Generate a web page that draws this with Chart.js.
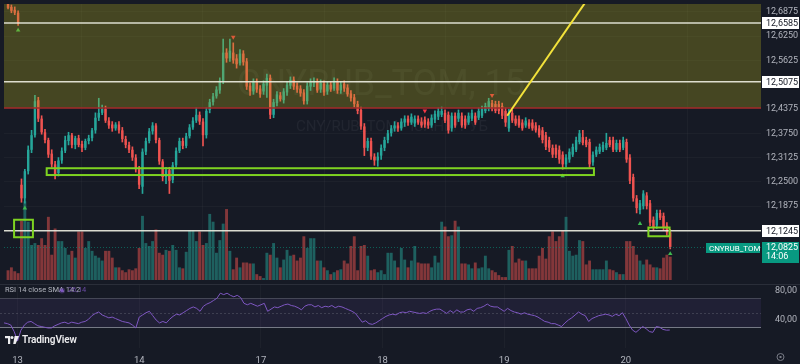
<!DOCTYPE html>
<html lang="ru">
<head>
    <meta charset="UTF-8">
    <title>CNYRUB_TOM, 15</title>
    <script src="https://cdn.jsdelivr.net/npm/chart.js"></script>
    <style>
        body { margin: 0; background: #161a25; width: 800px; height: 364px; overflow: hidden; position: relative; }
        canvas { position: absolute; left: 0; }
        #priceChart { top: 0; }
        #rsiChart { top: 284px; }
        .brand { position: absolute; left: 5px; top: 334px; display: flex; align-items: center; gap: 3px;
                 color: #ececee; font: 600 10px Roboto, sans-serif; letter-spacing: -0.1px; }
    </style>
</head>
<body>
    <canvas id="priceChart" width="800" height="284"></canvas>
    <canvas id="rsiChart" width="800" height="80"></canvas>
    <div class="brand">
        <svg width="14" height="8" viewBox="0 0 14 8"><path d="M0 0h5.2v8H3V2.2H0z" fill="#ececee"/><circle cx="7" cy="1.5" r="1.5" fill="#ececee"/><path d="M9.6 0H14L10.6 8H8.2z" fill="#ececee"/></svg>
        <span>TradingView</span>
    </div>

    <script>
        // bar number of the first candle (4 candles of the 12th before day 13 opens)
        const firstBar = -4;
        const dayTicks = [0, 36, 72, 108, 144, 180];
        const dayLabels = ['13', '14', '17', '18', '19', '20'];
        const priceTicks = [12.6875, 12.625, 12.5625, 12.4375, 12.375, 12.3125, 12.25, 12.1875];
        const rsiTicks = [40, 80];

        const opens = [
            12.7075, 12.7, 12.6925, 12.685,
            // 13
            12.2425, 12.2075, 12.2775, 12.3325, 12.37, 12.46, 12.4125, 12.3775, 12.3575, 12.3225,
            12.295, 12.2725, 12.305, 12.33, 12.355, 12.37, 12.345, 12.3625, 12.3475, 12.3375,
            12.355, 12.3625, 12.3825, 12.415, 12.4275, 12.4375, 12.4075, 12.3975, 12.3875, 12.3975,
            12.3825, 12.36, 12.345, 12.3325, 12.3125, 12.2825,
            // 14
            12.2375, 12.3275, 12.355, 12.38, 12.395, 12.3575, 12.3025, 12.2625, 12.28, 12.255,
            12.2925, 12.33, 12.355, 12.3425, 12.3675, 12.39, 12.4075, 12.4225, 12.405, 12.37,
            12.435, 12.455, 12.47, 12.485, 12.5075, 12.5825, 12.5675, 12.5825, 12.5675, 12.555,
            12.58, 12.56, 12.4975, 12.4825, 12.5075, 12.49,
            // 17
            12.4825, 12.4975, 12.5175, 12.4225, 12.4525, 12.4725, 12.46, 12.48, 12.4975, 12.5125,
            12.4975, 12.49, 12.48, 12.4575, 12.495, 12.505, 12.5075, 12.4875, 12.5025, 12.4825,
            12.5, 12.49, 12.5075, 12.485, 12.5025, 12.4925, 12.4775, 12.4675, 12.45, 12.435,
            12.3925, 12.3375, 12.355, 12.315, 12.305, 12.3175,
            // 18
            12.3375, 12.3575, 12.375, 12.3875, 12.395, 12.3875, 12.4025, 12.4125, 12.4025, 12.4,
            12.4125, 12.405, 12.41, 12.405, 12.395, 12.41, 12.4175, 12.4225, 12.4275, 12.4225,
            12.3875, 12.42, 12.4125, 12.42, 12.4125, 12.4025, 12.4125, 12.42, 12.415, 12.42,
            12.4325, 12.4375, 12.4525, 12.45, 12.45, 12.445,
            // 19
            12.4325, 12.3875, 12.4275, 12.4125, 12.4125, 12.4025, 12.395, 12.4025, 12.4025, 12.395,
            12.3875, 12.3825, 12.37, 12.3575, 12.3375, 12.3375, 12.3325, 12.32, 12.295, 12.3075,
            12.32, 12.3325, 12.3525, 12.365, 12.3575, 12.3525, 12.3, 12.32, 12.3275, 12.3325,
            12.3375, 12.3575, 12.3575, 12.3325, 12.35, 12.3375,
            // 20
            12.3525, 12.3125, 12.2625, 12.2075, 12.1775, 12.1875, 12.215, 12.195, 12.1525, 12.1375,
            12.17, 12.1625, 12.1375, 12.12
        ];
        const highs = [
            12.7225, 12.705, 12.7, 12.69,
            12.2575, 12.2825, 12.3425, 12.3825, 12.4725, 12.4675, 12.42, 12.385, 12.3625, 12.3325,
            12.3025, 12.3125, 12.3375, 12.3675, 12.3775, 12.375, 12.3675, 12.37, 12.355, 12.36,
            12.37, 12.3875, 12.4275, 12.465, 12.4475, 12.445, 12.415, 12.405, 12.4025, 12.405,
            12.39, 12.3675, 12.3525, 12.34, 12.32, 12.29,
            12.335, 12.3625, 12.3875, 12.4025, 12.4, 12.3625, 12.3075, 12.2875, 12.2875, 12.3,
            12.3375, 12.3625, 12.3625, 12.375, 12.3975, 12.415, 12.44, 12.43, 12.4125, 12.44,
            12.4625, 12.4775, 12.495, 12.5175, 12.6175, 12.5925, 12.6175, 12.6075, 12.5775, 12.59,
            12.5875, 12.5675, 12.505, 12.515, 12.515, 12.4975,
            12.51, 12.5275, 12.525, 12.4625, 12.4825, 12.48, 12.49, 12.5075, 12.52, 12.52,
            12.505, 12.4975, 12.4875, 12.505, 12.515, 12.5175, 12.515, 12.5125, 12.51, 12.5075,
            12.5075, 12.5175, 12.515, 12.5075, 12.51, 12.5, 12.485, 12.475, 12.4575, 12.4425,
            12.4, 12.3625, 12.3625, 12.3225, 12.325, 12.345,
            12.365, 12.3825, 12.395, 12.405, 12.4025, 12.4125, 12.42, 12.42, 12.425, 12.42,
            12.42, 12.415, 12.4175, 12.4125, 12.4225, 12.4325, 12.44, 12.4425, 12.435, 12.43,
            12.4275, 12.4275, 12.435, 12.4275, 12.42, 12.4275, 12.435, 12.4275, 12.44, 12.445,
            12.4525, 12.465, 12.46, 12.4575, 12.4575, 12.4525,
            12.44, 12.4375, 12.435, 12.42, 12.42, 12.41, 12.415, 12.41, 12.41, 12.4025,
            12.395, 12.39, 12.3775, 12.365, 12.345, 12.345, 12.3425, 12.3275, 12.32, 12.335,
            12.3475, 12.365, 12.3825, 12.3825, 12.365, 12.36, 12.3275, 12.34, 12.3475, 12.3525,
            12.375, 12.365, 12.365, 12.3575, 12.3575, 12.365,
            12.36, 12.32, 12.27, 12.215, 12.2025, 12.2275, 12.2225, 12.2025, 12.16, 12.1775,
            12.1775, 12.17, 12.145, 12.1275
        ];
        const lows = [
            12.695, 12.685, 12.68, 12.6525,
            12.1975, 12.195, 12.27, 12.325, 12.365, 12.405, 12.3725, 12.35, 12.3125, 12.2875,
            12.2575, 12.265, 12.2975, 12.325, 12.345, 12.3375, 12.335, 12.34, 12.3275, 12.3325,
            12.3475, 12.355, 12.375, 12.4075, 12.4225, 12.4025, 12.3875, 12.38, 12.3825, 12.375,
            12.3525, 12.3375, 12.325, 12.305, 12.275, 12.2325,
            12.22, 12.32, 12.35, 12.3725, 12.35, 12.295, 12.2525, 12.245, 12.22, 12.2475,
            12.2875, 12.325, 12.335, 12.3375, 12.3625, 12.385, 12.4025, 12.3975, 12.3425, 12.3625,
            12.4275, 12.4475, 12.465, 12.4775, 12.5025, 12.5575, 12.56, 12.555, 12.5425, 12.55,
            12.55, 12.4875, 12.4725, 12.475, 12.48, 12.4675,
            12.475, 12.4675, 12.4125, 12.415, 12.445, 12.4575, 12.4525, 12.4725, 12.49, 12.4875,
            12.48, 12.47, 12.45, 12.45, 12.485, 12.495, 12.48, 12.48, 12.4725, 12.475,
            12.4825, 12.485, 12.4775, 12.4775, 12.4825, 12.47, 12.4575, 12.4425, 12.425, 12.385,
            12.3175, 12.33, 12.3075, 12.2925, 12.29, 12.3075,
            12.33, 12.35, 12.3675, 12.38, 12.38, 12.3825, 12.3925, 12.395, 12.3975, 12.3925,
            12.3975, 12.39, 12.39, 12.3875, 12.39, 12.4025, 12.41, 12.4175, 12.4025, 12.375,
            12.38, 12.39, 12.405, 12.39, 12.3875, 12.3975, 12.4075, 12.3975, 12.41, 12.415,
            12.4275, 12.4325, 12.4325, 12.4275, 12.425, 12.4125,
            12.3925, 12.38, 12.4025, 12.395, 12.39, 12.3825, 12.39, 12.3875, 12.3825, 12.3775,
            12.365, 12.35, 12.3325, 12.3275, 12.3125, 12.3125, 12.2975, 12.2825, 12.2875, 12.3,
            12.315, 12.3275, 12.3475, 12.345, 12.34, 12.2875, 12.2925, 12.315, 12.3225, 12.3275,
            12.3325, 12.34, 12.3275, 12.3275, 12.3275, 12.3325,
            12.3, 12.245, 12.2, 12.17, 12.1675, 12.18, 12.18, 12.1375, 12.125, 12.13,
            12.1525, 12.125, 12.1125, 12.0775
        ];
        const closes = [
            12.6975, 12.69, 12.685, 12.6575,
            12.2075, 12.2775, 12.3325, 12.37, 12.4575, 12.4125, 12.3775, 12.3575, 12.32, 12.295,
            12.27, 12.305, 12.33, 12.3575, 12.37, 12.345, 12.3625, 12.345, 12.3375, 12.355,
            12.3625, 12.3825, 12.415, 12.4275, 12.4375, 12.4075, 12.395, 12.3875, 12.3975, 12.3825,
            12.36, 12.345, 12.3325, 12.3125, 12.2825, 12.2425,
            12.3275, 12.355, 12.38, 12.395, 12.3575, 12.3025, 12.2625, 12.28, 12.2525, 12.2925,
            12.33, 12.355, 12.3425, 12.3675, 12.39, 12.4075, 12.4225, 12.405, 12.37, 12.4325,
            12.455, 12.47, 12.4875, 12.51, 12.5825, 12.5675, 12.5875, 12.5625, 12.5525, 12.58,
            12.5575, 12.495, 12.4825, 12.5075, 12.4875, 12.475,
            12.5025, 12.5175, 12.4225, 12.455, 12.475, 12.4625, 12.4825, 12.5, 12.5125, 12.495,
            12.4875, 12.4775, 12.4575, 12.4975, 12.5075, 12.51, 12.485, 12.505, 12.48, 12.5,
            12.4875, 12.51, 12.485, 12.5, 12.49, 12.475, 12.465, 12.45, 12.4325, 12.3925,
            12.3375, 12.355, 12.315, 12.305, 12.315, 12.3375,
            12.3575, 12.375, 12.3875, 12.395, 12.3875, 12.405, 12.4125, 12.4025, 12.4175, 12.4125,
            12.4025, 12.395, 12.3975, 12.395, 12.415, 12.425, 12.4325, 12.4325, 12.4075, 12.3825,
            12.42, 12.395, 12.4275, 12.395, 12.395, 12.42, 12.4275, 12.4025, 12.4325, 12.4375,
            12.445, 12.4575, 12.4375, 12.4325, 12.4325, 12.42,
            12.4025, 12.4275, 12.4075, 12.4, 12.395, 12.3875, 12.4075, 12.3925, 12.3875, 12.3825,
            12.37, 12.3575, 12.34, 12.3375, 12.32, 12.32, 12.3075, 12.295, 12.3125, 12.3275,
            12.34, 12.3575, 12.375, 12.35, 12.345, 12.295, 12.32, 12.3325, 12.34, 12.345,
            12.35, 12.345, 12.3325, 12.35, 12.3325, 12.3575,
            12.3075, 12.2525, 12.2075, 12.1825, 12.195, 12.22, 12.1875, 12.145, 12.1325, 12.17,
            12.1575, 12.1325, 12.12, 12.0825
        ];
        const volumes = [
            10, 13, 9, 7,
            61, 81, 60, 36, 38, 36, 43, 36, 65, 26, 53, 40, 40, 33, 26, 30, 23, 50, 50, 33,
            40, 30, 25, 23, 20, 30, 30, 23, 13, 13, 10, 8, 11, 10, 12, 33,
            66, 38, 35, 40, 52, 28, 26, 31, 30, 36, 31, 13, 12, 29, 51, 51, 40, 50, 36, 38,
            68, 60, 28, 41, 58, 73, 30, 11, 23, 13, 18, 18, 17, 17, 6, 4,
            2, 28, 26, 38, 23, 13, 21, 31, 25, 26, 20, 23, 45, 33, 43, 43, 20, 20, 13, 10,
            6, 8, 10, 11, 20, 17, 35, 45, 10, 35, 36, 25, 10, 11, 8, 10,
            6, 28, 28, 20, 13, 33, 21, 13, 20, 35, 18, 17, 17, 17, 13, 25, 18, 60, 55, 45,
            46, 61, 55, 17, 17, 16, 12, 18, 12, 13, 25, 12, 10, 8, 5, 3,
            3, 31, 35, 18, 22, 20, 20, 12, 12, 12, 25, 33, 22, 45, 50, 40, 45, 51, 65, 30,
            25, 26, 41, 40, 16, 20, 11, 11, 11, 11, 20, 11, 10, 8, 6, 6,
            40, 40, 35, 26, 20, 16, 21, 16, 13, 13, 12, 23, 26, 24
        ];
        const rsi = [
            36, 35, 33, 24,
            11, 26, 33, 37, 38, 35, 32, 31, 30, 29, 29, 32, 34, 36, 37, 35, 37, 36, 35, 37,
            38, 41, 46, 49, 51, 47, 45, 43, 44, 42, 40, 38, 37, 36, 33, 29,
            44, 47, 50, 52, 46, 40, 36, 38, 36, 41, 45, 48, 47, 50, 53, 56, 58, 56, 52, 59,
            62, 64, 67, 70, 77, 75, 77, 74, 72, 74, 71, 63, 61, 63, 61, 59,
            61, 63, 52, 55, 58, 57, 59, 61, 62, 60, 59, 57, 54, 59, 61, 61, 58, 60, 57, 59,
            58, 60, 57, 59, 58, 56, 54, 52, 49, 43, 37, 39, 35, 34, 36, 39,
            42, 45, 47, 48, 47, 50, 51, 50, 52, 51, 50, 49, 50, 49, 52, 54, 55, 55, 52, 49,
            53, 50, 54, 51, 51, 54, 55, 52, 56, 57, 59, 62, 59, 58, 58, 55,
            52, 56, 53, 51, 50, 48, 50, 48, 47, 46, 44, 41, 38, 37, 35, 35, 33, 31, 36, 40,
            43, 47, 51, 48, 46, 38, 42, 44, 46, 47, 48, 47, 45, 48, 46, 50,
            42, 33, 26, 23, 27, 31, 28, 24, 23, 31, 30, 27, 26, 26.14
        ];

        // signal markers: [bar, price]
        const upMarks = [[-1, 12.64], [1, 12.1825], [161, 12.265], [184, 12.1425], [193, 12.065]];
        const downMarks = [[63, 12.6225], [120, 12.4325], [140, 12.4725]];

        // drawings on the price pane
        const zoneBottom = 12.44;
        const levelLines = [12.6585, 12.5075, 12.1245];
        const greenBoxes = [
            { from: 7.5, to: 170.3, top: 12.285, bottom: 12.2675 },
            { from: -2.2, to: 3.4, top: 12.1525, bottom: 12.1075 },
            { from: 186.5, to: 192.8, top: 12.1325, bottom: 12.11 }
        ];
        const trendLine = [[144.5, 12.42], [173.5, 12.784]];
        const watermark = ['CNYRUB_TOM, 15', 'CNY/RUB_TOM - ЮАНЬ/РУБ'];
        const symbol = 'CNYRUB_TOM';
        const countdown = '14:06';

        const X_MIN = -5.2, X_MAX = 220;
        const UP = '#26a69a', DOWN = '#ef5350';
        const VOL_UP = 'rgba(38,166,154,0.5)', VOL_DOWN = 'rgba(239,83,80,0.5)';
        const GRID = 'rgba(255,255,255,0.03)';
        const AXIS_TEXT = '#b2b5be';
        const FONT = 'Roboto, sans-serif';

        Chart.defaults.font.family = FONT;

        const bars = opens.map((_, k) => k + firstBar);
        const isUp = k => closes[k] >= opens[k];
        const fmt = (v, d) => v.toFixed(d).replace('.', ',');
        const lastClose = closes[closes.length - 1];

        // keep the plot flush with the canvas edges
        const noPad = s => { s.paddingTop = 0; s.paddingBottom = 0; s.paddingLeft = 0; s.paddingRight = 0; };

        const priceDrawings = {
            id: 'priceDrawings',
            beforeDatasetsDraw(chart) {
                const { ctx } = chart;
                ctx.save();
                ctx.fillStyle = 'rgba(255,255,255,0.05)';
                ctx.textAlign = 'center';
                ctx.textBaseline = 'middle';
                ctx.font = '36px ' + FONT;
                ctx.fillText(watermark[0], 381, 86);
                ctx.font = '15px ' + FONT;
                ctx.fillText(watermark[1], 392, 127);
                ctx.restore();
            },
            afterDatasetsDraw(chart) {
                const { ctx, chartArea: a } = chart;
                const X = v => chart.scales.x.getPixelForValue(v);
                const Y = v => chart.scales.y.getPixelForValue(v);
                ctx.save();
                ctx.beginPath();
                ctx.rect(a.left, a.top, a.width, a.height);
                ctx.clip();

                // olive zone
                const zb = Y(zoneBottom);
                ctx.fillStyle = 'rgba(175,172,30,0.31)';
                ctx.fillRect(a.left, a.top, a.width, zb - a.top);
                ctx.strokeStyle = '#a32a2a';
                ctx.lineWidth = 1.5;
                ctx.beginPath();
                ctx.moveTo(a.left, zb);
                ctx.lineTo(a.right, zb);
                ctx.stroke();

                // last price line
                ctx.strokeStyle = 'rgba(8,153,129,0.55)';
                ctx.lineWidth = 1;
                ctx.setLineDash([1, 2]);
                ctx.beginPath();
                ctx.moveTo(a.left, Math.round(Y(lastClose)) + 0.5);
                ctx.lineTo(a.right, Math.round(Y(lastClose)) + 0.5);
                ctx.stroke();
                ctx.setLineDash([]);

                // horizontal levels
                ctx.strokeStyle = 'rgba(236,236,222,0.92)';
                ctx.lineWidth = 1.5;
                levelLines.forEach(p => {
                    ctx.beginPath();
                    ctx.moveTo(a.left, Y(p));
                    ctx.lineTo(a.right, Y(p));
                    ctx.stroke();
                });

                // green rectangles
                ctx.strokeStyle = '#7ed321';
                ctx.lineWidth = 2;
                greenBoxes.forEach(b => {
                    ctx.strokeRect(X(b.from), Y(b.top), X(b.to) - X(b.from), Y(b.bottom) - Y(b.top));
                });

                // trend line
                ctx.strokeStyle = '#f3e23b';
                ctx.lineWidth = 2;
                ctx.beginPath();
                ctx.moveTo(X(trendLine[0][0]), Y(trendLine[0][1]));
                ctx.lineTo(X(trendLine[1][0]), Y(trendLine[1][1]));
                ctx.stroke();
                ctx.restore();
            },
            afterDraw(chart) {
                const { ctx, chartArea: a } = chart;
                const Y = v => chart.scales.y.getPixelForValue(v);
                const left = a.right;
                ctx.save();
                ctx.textBaseline = 'middle';
                ctx.font = '9px ' + FONT;
                levelLines.forEach(p => {
                    const y = Math.round(Y(p));
                    ctx.fillStyle = '#ffffff';
                    ctx.fillRect(left + 1, y - 6, 37, 12);
                    ctx.fillStyle = '#131722';
                    ctx.fillText(fmt(p, 4), left + 5, y + 0.5);
                });
                const y = Math.round(Y(lastClose));
                ctx.fillStyle = '#089981';
                ctx.fillRect(left + 1, y - 5, 37, 21);
                ctx.fillRect(left - 55, y - 4, 54, 10);
                ctx.fillStyle = '#ffffff';
                ctx.fillText(fmt(lastClose, 4), left + 5, y + 0.5);
                ctx.fillText(countdown, left + 5, y + 10);
                ctx.font = '8px ' + FONT;
                ctx.fillText(symbol, left - 52, y + 1.5);
                ctx.restore();
            }
        };

        new Chart(document.getElementById('priceChart'), {
            type: 'bar',
            data: {
                datasets: [
                    {
                        label: 'Volume',
                        data: bars.map((x, k) => ({ x, y: volumes[k] })),
                        yAxisID: 'yVol',
                        backgroundColor: c => isUp(c.dataIndex) ? VOL_UP : VOL_DOWN,
                        barPercentage: 0.86, categoryPercentage: 1, grouped: false, order: 4
                    },
                    {
                        label: 'Wicks',
                        data: bars.map((x, k) => ({ x, y: [lows[k], highs[k]] })),
                        yAxisID: 'y',
                        backgroundColor: c => isUp(c.dataIndex) ? UP : DOWN,
                        barThickness: 1, grouped: false, order: 3
                    },
                    {
                        label: 'Bodies',
                        data: bars.map((x, k) => ({ x, y: [opens[k], closes[k]] })),
                        yAxisID: 'y',
                        backgroundColor: c => isUp(c.dataIndex) ? UP : DOWN,
                        barPercentage: 0.72, categoryPercentage: 1, minBarLength: 1, grouped: false, order: 2
                    },
                    {
                        type: 'line', label: 'Up',
                        data: upMarks.map(([x, y]) => ({ x, y })),
                        yAxisID: 'y', showLine: false,
                        pointStyle: 'triangle', pointRadius: 2.6, pointBorderWidth: 0,
                        pointBackgroundColor: '#3fb950', order: 1
                    },
                    {
                        type: 'line', label: 'Down',
                        data: downMarks.map(([x, y]) => ({ x, y })),
                        yAxisID: 'y', showLine: false,
                        pointStyle: 'triangle', pointRotation: 180, pointRadius: 2.6, pointBorderWidth: 0,
                        pointBackgroundColor: '#f23645', order: 1
                    }
                ]
            },
            options: {
                responsive: false,
                animation: false,
                events: [],
                layout: { padding: 0 },
                plugins: { legend: { display: false }, tooltip: { enabled: false } },
                scales: {
                    x: {
                        type: 'linear', min: X_MIN, max: X_MAX, offset: false,
                        grid: { color: GRID, drawTicks: false },
                        border: { display: false },
                        ticks: { display: false },
                        afterBuildTicks: s => { s.ticks = dayTicks.map(v => ({ value: v })); },
                        afterFit: s => { s.height = 0; noPad(s); }
                    },
                    y: {
                        position: 'right', min: 11.9975, max: 12.7075,
                        grid: { color: GRID, drawTicks: false },
                        border: { display: false },
                        ticks: { color: AXIS_TEXT, font: { size: 9 }, padding: 5, callback: v => fmt(v, 4) },
                        afterBuildTicks: s => { s.ticks = priceTicks.map(v => ({ value: v })); },
                        afterFit: s => { s.width = 39; noPad(s); }
                    },
                    yVol: { position: 'right', display: false, min: 0, max: 284 }
                }
            },
            plugins: [priceDrawings]
        });

        const rsiDrawings = {
            id: 'rsiDrawings',
            beforeDatasetsDraw(chart) {
                const { ctx, chartArea: a } = chart;
                const Y = v => chart.scales.y.getPixelForValue(v);
                ctx.save();
                ctx.fillStyle = 'rgba(126,87,194,0.1)';
                ctx.fillRect(a.left, Y(70), a.width, Y(30) - Y(70));
                ctx.lineWidth = 1;
                ctx.strokeStyle = 'rgba(120,123,134,0.45)';
                ctx.beginPath();
                ctx.moveTo(a.left, Math.round(Y(70)) + 0.5);
                ctx.lineTo(a.right, Math.round(Y(70)) + 0.5);
                ctx.stroke();
                ctx.strokeStyle = 'rgba(150,153,164,0.75)';
                ctx.beginPath();
                ctx.moveTo(a.left, Math.round(Y(30)) + 0.5);
                ctx.lineTo(a.right, Math.round(Y(30)) + 0.5);
                ctx.stroke();
                ctx.strokeStyle = 'rgba(120,123,134,0.35)';
                ctx.setLineDash([2, 2]);
                ctx.beginPath();
                ctx.moveTo(a.left, Math.round(Y(50)) + 0.5);
                ctx.lineTo(a.right, Math.round(Y(50)) + 0.5);
                ctx.stroke();
                ctx.restore();
            },
            afterDraw(chart) {
                const { ctx } = chart;
                ctx.save();
                // pane separator
                ctx.strokeStyle = '#2a2e39';
                ctx.lineWidth = 1;
                ctx.beginPath();
                ctx.moveTo(0, 0.5);
                ctx.lineTo(800, 0.5);
                ctx.stroke();
                // legend
                ctx.textBaseline = 'middle';
                ctx.font = '7.5px ' + FONT;
                ctx.fillStyle = AXIS_TEXT;
                ctx.fillText('RSI 14 close SMA 14 2', 5, 6.5);
                ctx.fillStyle = 'rgba(126,87,194,0.35)';
                ctx.beginPath();
                ctx.arc(62, 6.5, 3, 0, Math.PI * 2);
                ctx.fill();
                ctx.fillStyle = '#7e57c2';
                ctx.beginPath();
                ctx.arc(62, 6.5, 1.6, 0, Math.PI * 2);
                ctx.fill();
                ctx.fillStyle = 'rgba(126,87,194,0.8)';
                ctx.fillText(fmt(rsi[rsi.length - 1], 2), 68, 6.5);
                // settings icon
                ctx.strokeStyle = '#787b86';
                ctx.beginPath();
                ctx.arc(780.5, 73, 3.5, 0, Math.PI * 2);
                ctx.stroke();
                ctx.fillStyle = '#787b86';
                ctx.fillRect(779.5, 72, 2, 2);
                ctx.restore();
            }
        };

        new Chart(document.getElementById('rsiChart'), {
            type: 'line',
            data: {
                datasets: [{
                    label: 'RSI',
                    data: bars.map((x, k) => ({ x, y: rsi[k] })),
                    borderColor: '#7e57c2', borderWidth: 1, pointRadius: 0, tension: 0
                }]
            },
            options: {
                responsive: false,
                animation: false,
                events: [],
                layout: { padding: { top: 1, left: 0, right: 0, bottom: 0 } },
                plugins: { legend: { display: false }, tooltip: { enabled: false } },
                scales: {
                    x: {
                        type: 'linear', min: X_MIN, max: X_MAX, offset: false,
                        grid: { color: GRID, drawTicks: false },
                        border: { display: false },
                        ticks: {
                            color: AXIS_TEXT, font: { size: 9.5 }, padding: 7, maxRotation: 0, autoSkip: false,
                            callback: v => dayLabels[dayTicks.indexOf(v)]
                        },
                        afterBuildTicks: s => { s.ticks = dayTicks.map(v => ({ value: v })); },
                        afterFit: s => { s.height = 16; noPad(s); }
                    },
                    y: {
                        position: 'right', min: 1.38, max: 88.28,
                        grid: { display: false },
                        border: { display: false },
                        ticks: { color: AXIS_TEXT, font: { size: 9 }, padding: 6, callback: v => fmt(v, 2) },
                        afterBuildTicks: s => { s.ticks = rsiTicks.map(v => ({ value: v })); },
                        afterFit: s => { s.width = 39; noPad(s); }
                    }
                }
            },
            plugins: [rsiDrawings]
        });
    </script>
</body>
</html>
